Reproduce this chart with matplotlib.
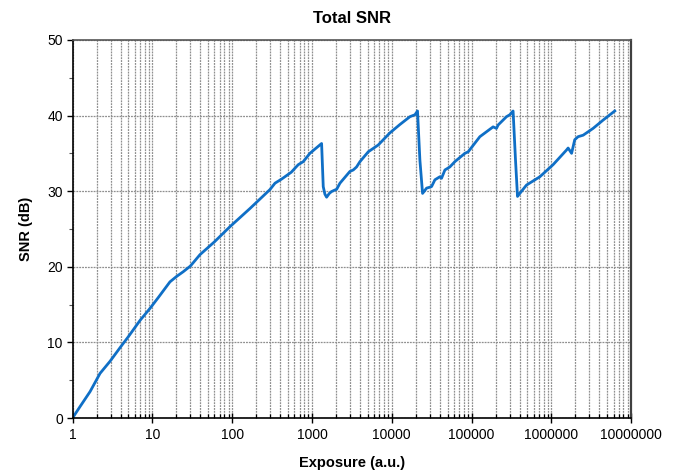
import matplotlib
matplotlib.use("Agg")
import matplotlib.pyplot as plt
from matplotlib.ticker import LogLocator, FixedLocator, FuncFormatter, NullFormatter, MultipleLocator

plt.rcParams['font.family'] = ['Liberation Sans', 'DejaVu Sans']

exposure = [1, 1.24, 1.66, 2.21, 2.95, 4, 5, 7, 9.35, 12, 16.6, 20, 24.4, 30, 39.5, 60, 93.8, 167, 297,
            344, 417, 550, 673, 777, 942, 1100, 1320, 1384, 1452, 1525, 1650, 1762, 1938, 2040, 2240,
            2985, 3290, 3620, 3990, 5070, 6760, 9460, 12600, 16900, 19500, 21000,
            22500, 24300, 27300, 29500, 31500, 34700, 40000, 42000, 46300, 53400, 61700, 82400, 90600,
            126900, 186000, 205000, 215000, 274000, 301000, 331000,
            355000, 376000, 402000, 487000, 716000, 1050000, 1550000, 1620000, 1790000, 1960000,
            2160000, 2500000, 3330000, 4450000, 6220000]
snr = [0.0, 1.5, 3.5, 5.9, 7.5, 9.4, 10.75, 12.9, 14.5, 16.0, 18.0, 18.7, 19.35, 20.1, 21.6, 23.3, 25.3, 27.7, 30.2,
       31.05, 31.6, 32.5, 33.5, 33.9, 35.0, 35.6, 36.3, 30.6, 29.6, 29.2, 29.7, 29.95, 30.15, 30.25, 31.05,
       32.6, 32.8, 33.2, 33.9, 35.2, 36.1, 37.7, 38.8, 39.85, 40.1, 40.6,
       34.1, 29.7, 30.4, 30.5, 30.6, 31.5, 31.9, 31.7, 32.8, 33.2, 33.9, 35.0, 35.2,
       37.2, 38.5, 38.3, 38.75, 39.85, 40.1, 40.6,
       34.1, 29.3, 29.7, 30.8, 31.9, 33.5, 35.45, 35.7, 35.0, 36.8,
       37.2, 37.4, 38.3, 39.4, 40.6]

x_tick_values = [1, 10, 100, 1000, 10000, 100000, 1000000, 10000000]
y_tick_values = [0, 10, 20, 30, 40, 50]

fig = plt.figure(figsize=(6.78, 4.75), dpi=100)
ax = fig.add_axes([0.107, 0.12, 0.824, 0.796])

ax.plot(exposure, snr, color='#0F6FC6', linewidth=2.0, solid_joinstyle='round')

ax.set_xscale('log')
ax.set_xlim(1, 1e7)
ax.set_ylim(0, 50)
ax.xaxis.set_major_locator(FixedLocator(x_tick_values))
ax.xaxis.set_major_formatter(FuncFormatter(lambda v, p: f"{int(round(v))}"))
ax.xaxis.set_minor_locator(LogLocator(base=10, subs=range(2, 10), numticks=20))
ax.xaxis.set_minor_formatter(NullFormatter())
ax.yaxis.set_major_locator(FixedLocator(y_tick_values))
ax.yaxis.set_minor_locator(MultipleLocator(5))

grid_kw = dict(color='#8f8f8f', linestyle=(0, (1.5, 0.8)), linewidth=0.9)
ax.grid(True, which='major', axis='both', **grid_kw)
ax.grid(True, which='minor', axis='x', **grid_kw)
ax.set_axisbelow(True)

ax.tick_params(axis='x', which='major', direction='inout', length=7, width=1, labelsize=10, pad=4, colors='black')
ax.tick_params(axis='x', which='minor', direction='in', length=3, width=0.9)
ax.tick_params(axis='y', which='major', direction='out', length=4, width=1, labelsize=10, pad=3)
ax.tick_params(axis='y', which='minor', direction='out', length=3, width=0.8, color='#555555')

for s in ['left', 'bottom']:
    ax.spines[s].set_linewidth(1.2)
    ax.spines[s].set_color('black')
ax.spines['top'].set_linewidth(1.2)
ax.spines['top'].set_color('#555555')
ax.spines['right'].set_linewidth(1.6)
ax.spines['right'].set_color('#404040')

ax.set_title('Total SNR', fontsize=12, fontweight='bold', pad=12)
ax.set_xlabel('Exposure (a.u.)', fontsize=10.5, fontweight='bold', labelpad=10)
ax.set_ylabel('SNR (dB)', fontsize=10.5, fontweight='bold', labelpad=10)

fig.savefig('out.png', dpi=100)
